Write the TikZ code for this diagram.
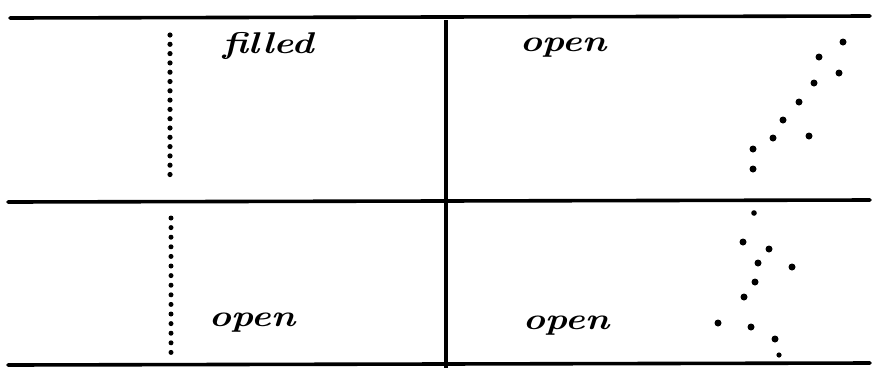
\documentclass[tikz,border=0pt]{standalone}
\begin{document}
\begin{tikzpicture}[x=1pt,y=-1pt,
  rule/.style={line width=3.6pt,line cap=round},
  hand/.style={font=\fontsize{30}{30}\selectfont\bfseries\itshape,inner sep=0pt,xscale=1.25},
  dot/.style={fill=black}]
\useasboundingbox (0,0) rectangle (872,368);
% frame lines
\draw[rule] (10,18) -- (870,16);
\draw[rule] (8,202) -- (870,200);
\draw[rule] (8,365) -- (870,363);
\draw[line width=4.5pt] (446,20) -- (446,368);
% left dotted columns
\foreach \i in {0,...,15} \fill (170,{35+\i*9.3}) circle (2.6);
\foreach \i in {0,...,14} \fill (171,{218+\i*9.6}) circle (2.5);
% labels
\node[hand] (filled) at (268,46) {filled};
\node[hand] (open1) at (563,48) {open};
\node[hand] (open2) at (252,323) {open};
\node[hand] (open3) at (566,326) {open};
% top-right scattered dots
\foreach \p in {(843,42),(819,57),(839,73),(814,83),(799,102),(783,120),(773,138),(809,136),(753,149),(753,169)}
  \fill \p circle (3.5);
% bottom-right scattered dots
\foreach \p in {(743,242),(769,249),(758,263),(792,267),(755,282),(744,297),(718,323),(751,327),(775,339)}
  \fill \p circle (3.5);
\fill (754,213) circle (2.8);
\fill (779,355) circle (2.6);
\end{tikzpicture}
\end{document}
